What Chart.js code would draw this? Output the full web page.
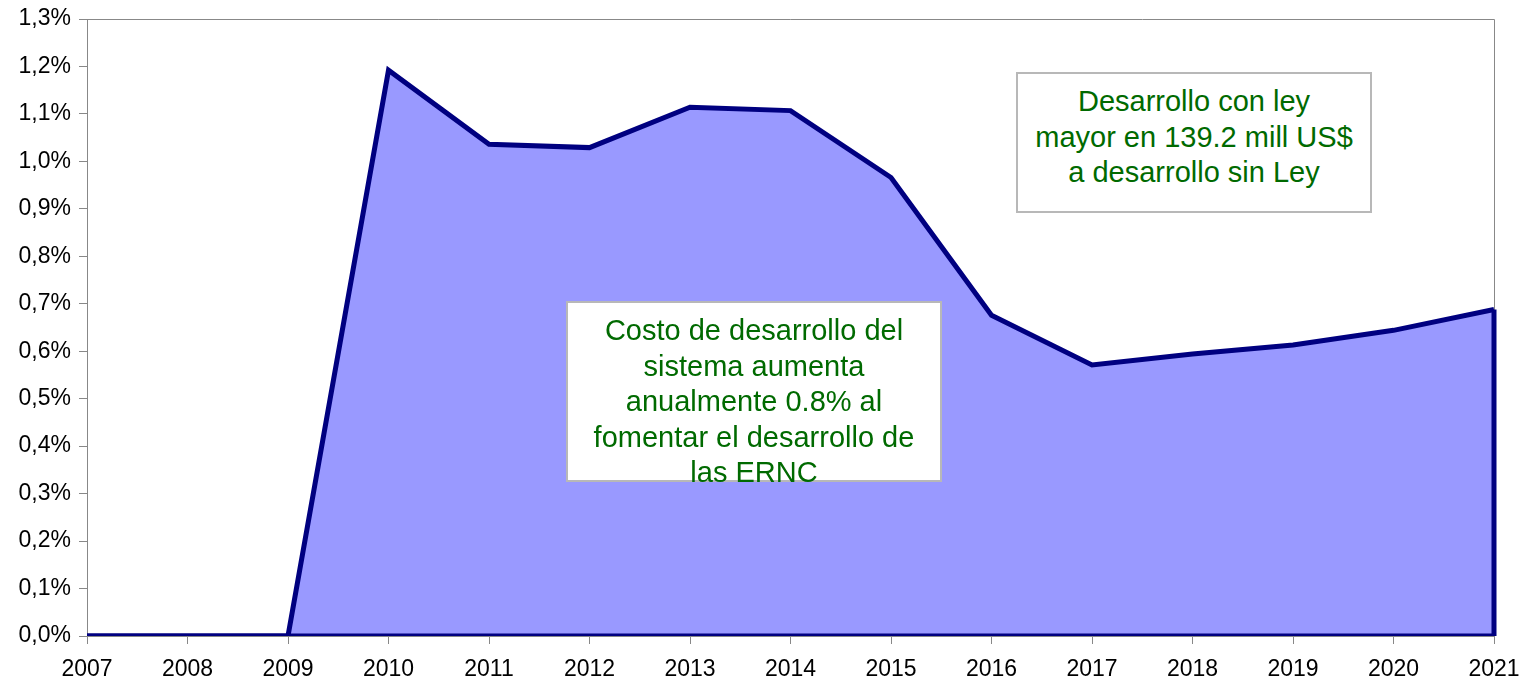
<!DOCTYPE html>
<html>
<head>
<meta charset="utf-8">
<script src="https://cdn.jsdelivr.net/npm/chart.js@4"></script>
<style>
    body { margin: 0; background: #fff; }
    #wrap { position: relative; width: 1524px; height: 683px; }
    .note {
        position: absolute;
        box-sizing: border-box;
        background: #fff;
        border: 2px solid #b8b8b8;
        color: #006a00;
        font-family: "Liberation Sans", Arial, sans-serif;
        font-size: 29px;
        line-height: 35.5px;
        text-align: center;
        padding-top: 10px;
        white-space: nowrap;
    }
</style>
</head>
<body>
<div id="wrap">
    <canvas id="areaChart" width="1524" height="683"></canvas>
    <div class="note" style="left:1016px; top:72px; width:356px; height:141px;">Desarrollo con ley<br>mayor en 139.2 mill US$<br>a desarrollo sin Ley</div>
    <div class="note" style="left:566px; top:301px; width:376px; height:181px;">Costo de desarrollo del<br>sistema aumenta<br>anualmente 0.8% al<br>fomentar el desarrollo de<br>las ERNC</div>
</div>
<script>
// years on the x axis
const years = ['2007', '2008', '2009', '2010', '2011', '2012', '2013', '2014',
               '2015', '2016', '2017', '2018', '2019', '2020', '2021'];

// cost increase, in percent
const costIncrease = [0, 0, 0, 1.192, 1.036, 1.029, 1.114, 1.107,
                      0.966, 0.676, 0.571, 0.594, 0.613, 0.644, 0.688];

const yMax = 1.3;
const yStep = 0.1;

const lineColor = '#000080';
const fillColor = '#9999ff';
const axisColor = '#888888';

// frame on top/right of the plot area, like the spreadsheet original
const plotFrame = {
    id: 'plotFrame',
    beforeDatasetsDraw(chart) {
        const { ctx, chartArea } = chart;
        ctx.save();
        ctx.strokeStyle = axisColor;
        ctx.lineWidth = 1;
        ctx.beginPath();
        ctx.moveTo(chartArea.left, chartArea.top + 0.5);
        ctx.lineTo(chartArea.right + 0.5, chartArea.top + 0.5);
        ctx.lineTo(chartArea.right + 0.5, chartArea.bottom);
        ctx.stroke();
        ctx.restore();
    }
};

// close the area outline: right edge down to zero and along the base
const areaOutline = {
    id: 'areaOutline',
    afterDatasetsDraw(chart) {
        const { ctx, chartArea } = chart;
        const pts = chart.getDatasetMeta(0).data;
        const first = pts[0];
        const last = pts[pts.length - 1];
        const y0 = chart.scales.y.getPixelForValue(0);
        ctx.save();
        ctx.beginPath();
        ctx.rect(chartArea.left, chartArea.top, chartArea.width + 5, chartArea.height);
        ctx.clip();
        ctx.strokeStyle = lineColor;
        ctx.lineWidth = 5;
        ctx.lineJoin = 'miter';
        ctx.beginPath();
        ctx.moveTo(last.x, last.y);
        ctx.lineTo(last.x, y0);
        ctx.lineTo(first.x, y0);
        ctx.stroke();
        ctx.restore();
    }
};

const tickFont = { family: '"Liberation Sans", Arial, sans-serif', size: 23 };

new Chart(document.getElementById('areaChart'), {
    type: 'line',
    data: {
        labels: years,
        datasets: [{
            data: costIncrease,
            borderColor: lineColor,
            backgroundColor: fillColor,
            borderWidth: 5,
            fill: 'origin',
            tension: 0,
            pointRadius: 0,
            clip: { left: 0, top: 5, right: 5, bottom: 0 },
        }]
    },
    options: {
        responsive: false,
        animation: false,
        layout: { padding: { left: 0, top: 19, right: 30, bottom: 0 } },
        plugins: {
            legend: { display: false },
            tooltip: { enabled: false },
        },
        scales: {
            x: {
                offset: false,
                afterFit: (scale) => {
                    scale.height = 47;
                    scale.paddingLeft = 0;
                    scale.paddingRight = 0;
                },
                grid: {
                    drawOnChartArea: false,
                    drawTicks: true,
                    tickLength: 8,
                    color: axisColor,
                },
                border: { color: axisColor, width: 1 },
                ticks: {
                    color: '#000',
                    font: tickFont,
                    padding: 12,
                    maxRotation: 0,
                    autoSkip: false,
                },
            },
            y: {
                min: 0,
                max: yMax,
                afterFit: (scale) => {
                    scale.width = 87;
                    scale.paddingTop = 0;
                    scale.paddingBottom = 0;
                },
                grid: {
                    drawOnChartArea: false,
                    drawTicks: true,
                    tickLength: 8,
                    color: axisColor,
                },
                border: { color: axisColor, width: 1 },
                ticks: {
                    stepSize: yStep,
                    color: '#000',
                    font: tickFont,
                    padding: 8,
                    callback: (v) => v.toFixed(1).replace('.', ',') + '%',
                },
            },
        },
    },
    plugins: [plotFrame, areaOutline],
});
</script>
</body>
</html>
